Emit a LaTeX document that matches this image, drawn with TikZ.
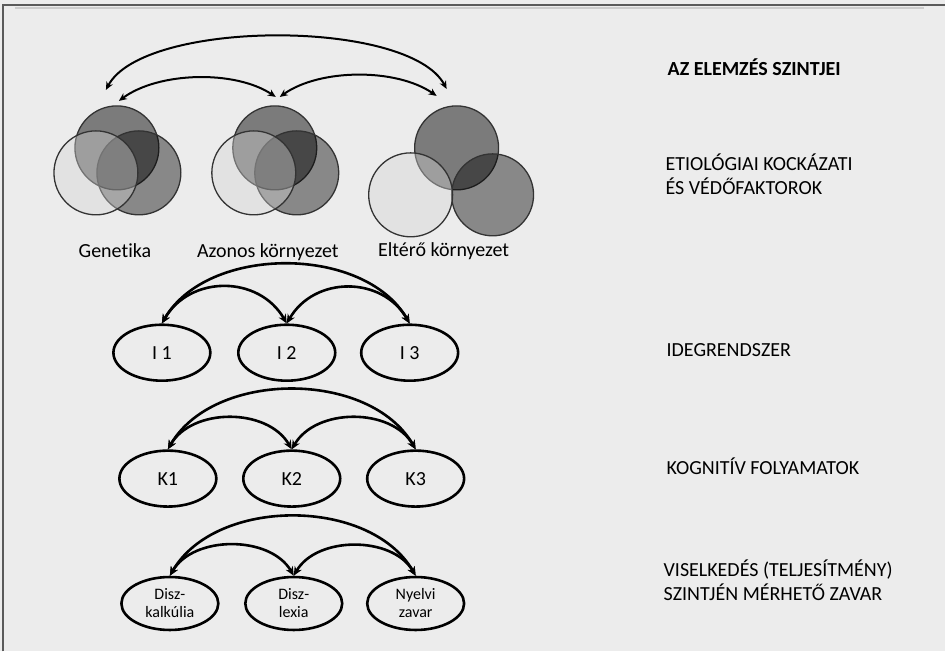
\documentclass[tikz,border=0pt]{standalone}
\usepackage{fontspec}
\setmainfont{Carlito}[Ligatures=NoCommon]
\usetikzlibrary{shapes.geometric,arrows.meta}
\definecolor{bggray}{HTML}{ECECEC}
\definecolor{vline}{HTML}{333333}
\definecolor{frame}{HTML}{5A5A5A}
\begin{document}
\begin{tikzpicture}[x=1pt,y=-1pt,
    lbl/.style={font=\fontsize{20}{24}\selectfont, inner sep=0pt, anchor=base},
    lvl/.style={font=\fontsize{20}{24}\selectfont, inner sep=0pt, anchor=west, align=left},
    oval/.style={draw, ellipse, line width=2.6pt, minimum width=97pt, minimum height=56pt,
        inner sep=0pt, font=\fontsize{20}{24}\selectfont},
    smalloval/.style={oval, minimum height=53pt, font=\fontsize{16}{18}\selectfont, align=center},
    vtop/.style={draw=vline, line width=1.3pt, fill=black, fill opacity=0.48},
    vright/.style={draw=vline, line width=1.3pt, fill=black, fill opacity=0.42},
    vleft/.style={draw=vline, line width=1.3pt, fill=black!17, fill opacity=0.4},
    arc/.style={{Stealth[length=9pt,width=8pt]}-{Stealth[length=9pt,width=8pt]}, line width=2.6pt},
    toparc/.style={{Stealth[length=8pt,width=7pt]}-{Stealth[length=8pt,width=7pt]}, line width=2pt}]
        % background and frame
        \fill[bggray] (0,0) rectangle (946,652);
        \draw[frame, line width=1.6pt] (3,652) -- (3,5) -- (946,5);
        \draw[black!20, line width=1.2pt] (15,8) -- (925,8);

        % Venn diagrams
        \filldraw[vtop] (117,148) circle[radius=42];
        \filldraw[vright] (139,173) circle[radius=42];
        \filldraw[vleft] (96,173) circle[radius=42];
        \filldraw[vtop] (275,148) circle[radius=42];
        \filldraw[vright] (297,173) circle[radius=42];
        \filldraw[vleft] (254,173) circle[radius=42];
        \filldraw[vtop] (457,148) circle[radius=42];
        \filldraw[vright] (493,195) circle[radius=41];
        \filldraw[vleft] (411,195) circle[radius=42];

        \node[lbl] (gen) at (115,258) {Genetika};
        \node[lbl] (azo) at (268,258) {Azonos környezet};
        \node[lbl] (elt) at (444,257) {Eltérő környezet};

        \coordinate (genA) at (106,90);
        \coordinate (genB) at (119,101);
        \coordinate (azoA) at (276,97);
        \coordinate (azoB) at (280,97);
        \coordinate (eltA) at (437,96);
        \coordinate (eltB) at (447,89);
        \draw[toparc] (genA) to[bend left=62, looseness=0.6] (eltB);
        \draw[toparc] (genB) to[bend left=35, looseness=0.8] (azoA);
        \draw[toparc] (azoB) to[bend left=35, looseness=0.8] (eltA);

        % idegrendszer
        \node[oval] (i1) at (162,353) {I 1};
        \node[oval] (i2) at (287,353) {I 2};
        \node[oval] (i3) at (410,353) {I 3};
        \draw[arc] (i1.north) to[bend left=60, looseness=0.94] (i3.north);
        \draw[arc] (i1.north) to[bend left=60, looseness=1.15] (i2.north);
        \draw[arc] (i2.north) to[bend left=60, looseness=1.15] (i3.north);

        % kognitiv
        \node[oval] (k1) at (168,479) {K1};
        \node[oval] (k2) at (292,479) {K2};
        \node[oval] (k3) at (416,479) {K3};
        \draw[arc] (k1.north) to[bend left=60, looseness=0.95] (k3.north);
        \draw[arc] (k1.north) to[bend left=60, looseness=1.0] (k2.north);
        \draw[arc] (k2.north) to[bend left=60, looseness=1.0] (k3.north);

        % viselkedes
        \node[smalloval] (d1) at (170,604) {Disz-\\kalkúlia};
        \node[smalloval] (d2) at (294,604) {Disz-\\lexia};
        \node[smalloval] (d3) at (416,604) {Nyelvi\\zavar};
        \draw[arc] (d1.north) to[bend left=60, looseness=0.95] (d3.north);
        \draw[arc] (d1.north) to[bend left=60, looseness=0.97] (d2.north);
        \draw[arc] (d2.north) to[bend left=60, looseness=0.97] (d3.north);

        % szintek
        \node[lvl] (sz0) at (668,67) {\textbf{AZ ELEMZÉS SZINTJEI}};
        \node[lvl] (sz1) at (666,174) {ETIOLÓGIAI KOCKÁZATI\\ÉS VÉDŐFAKTOROK};
        \node[lvl] (sz2) at (667,350) {IDEGRENDSZER};
        \node[lvl] (sz3) at (667,467) {KOGNITÍV FOLYAMATOK};
        \node[lvl] (sz4) at (664,581) {VISELKEDÉS (TELJESÍTMÉNY)\\SZINTJÉN MÉRHETŐ ZAVAR};
    \end{tikzpicture}
\end{document}
